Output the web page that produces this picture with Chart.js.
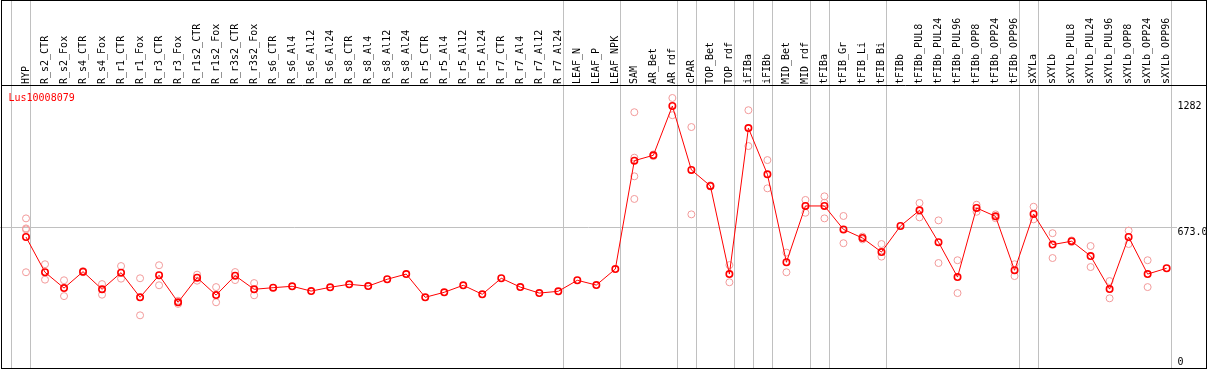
<!DOCTYPE html>
<html><head><meta charset="utf-8">
<script src="https://cdn.jsdelivr.net/npm/chart.js@4.4.1/dist/chart.umd.min.js"></script>
<style>html,body{margin:0;padding:0;background:#fff;overflow:hidden}</style>
</head><body><canvas id="c" width="1209" height="370"></canvas>
<script>
const categories = ['HYP','R_s2_CTR','R_s2_Fox','R_s4_CTR','R_s4_Fox','R_r1_CTR','R_r1_Fox','R_r3_CTR','R_r3_Fox','R_r1s2_CTR','R_r1s2_Fox','R_r3s2_CTR','R_r3s2_Fox','R_s6_CTR','R_s6_Al4','R_s6_Al12','R_s6_Al24','R_s8_CTR','R_s8_Al4','R_s8_Al12','R_s8_Al24','R_r5_CTR','R_r5_Al4','R_r5_Al12','R_r5_Al24','R_r7_CTR','R_r7_Al4','R_r7_Al12','R_r7_Al24','LEAF_N','LEAF_P','LEAF_NPK','SAM','AR_Bet','AR_rdf','cPAR','TOP_Bet','TOP_rdf','iFIBa','iFIBb','MID_Bet','MID_rdf','tFIBa','tFIB_Gr','tFIB_Li','tFIB_Bi','tFIBb','tFIBb_PUL8','tFIBb_PUL24','tFIBb_PUL96','tFIBb_OPP8','tFIBb_OPP24','tFIBb_OPP96','sXYLa','sXYLb','sXYLb_PUL8','sXYLb_PUL24','sXYLb_PUL96','sXYLb_OPP8','sXYLb_OPP24','sXYLb_OPP96'];
const means = [628,452,373,455,367,450,327,437,302,425,338,435,367,375,382,358,377,392,383,417,443,327,352,387,342,422,378,348,357,412,388,468,1009,1036,1282,963,883,443,1172,941,502,783,783,666,623,553,683,761,602,428,773,731,462,743,590,607,533,368,628,443,472];
const rep1 = [721,492,412,458,393,483,422,487,310,440,378,453,398,null,null,null,null,null,null,null,null,null,null,null,null,null,null,null,null,null,null,null,1251,1040,1322,1177,886,488,1261,1012,550,813,831,733,630,593,null,798,711,512,789,741,492,779,647,611,583,408,660,512,null];
const rep2 = [671,415,333,452,340,420,237,387,294,410,302,413,337,null,null,null,null,null,null,null,null,null,null,null,null,null,null,null,null,null,null,null,1024,1032,1236,741,880,402,1082,871,452,749,799,597,616,530,null,726,498,348,754,722,433,716,523,603,478,322,593,378,null];
const rep3 = [666,null,null,null,null,null,null,null,null,null,null,null,null,null,null,null,null,null,null,null,null,null,null,null,null,null,null,null,null,null,null,null,931,null,null,null,null,null,null,null,null,null,721,null,null,null,null,null,null,null,null,null,null,null,null,null,null,null,null,null,null];
const rep4 = [452,null,null,null,null,null,null,null,null,null,null,null,null,null,null,null,null,null,null,null,null,null,null,null,null,null,null,null,null,null,null,null,818,null,null,null,null,null,null,null,null,null,null,null,null,null,null,null,null,null,null,null,null,null,null,null,null,null,null,null,null];
const yTickValues = [0, 673, 1282];
const yTickLabels = ['0', '673.0', '1282'];
const geneName = 'Lus10008079';
const groupEnds = [-1, 0, 28, 31, 34, 35, 37, 38, 39, 41, 42, 45, 52, 53, 60];

const toPts = arr => arr.map((v, i) => v == null ? null : {x: i, y: v}).filter(p => p);
const FONT = {family: '"DejaVu Sans Mono", monospace', size: 10};

const framePlugin = {
  id: 'frame',
  beforeDatasetsDraw(chart) {
    const c = chart.ctx, xs = chart.scales.x;
    c.save();
    c.strokeStyle = '#c0c0c0'; c.lineWidth = 1;
    groupEnds.forEach(i => {
      const px = Math.round(xs.getPixelForValue(i + 0.23)) + 0.5;
      c.beginPath(); c.moveTo(px, 0); c.lineTo(px, 369); c.stroke();
    });
    c.restore();
  },
  afterDraw(chart) {
    const c = chart.ctx;
    c.save();
    c.strokeStyle = '#000'; c.lineWidth = 1;
    c.strokeRect(1.5, 0.5, 1205, 368);
    c.beginPath(); c.moveTo(1, 85.5); c.lineTo(1207, 85.5); c.stroke();
    c.fillStyle = '#ff0000';
    c.font = '10px "DejaVu Sans Mono"';
    c.textBaseline = 'alphabetic';
    c.fillText(geneName, 8.5, 101);
    c.restore();
  }
};

const pale = '#f29a9a';
const repDs = [rep1, rep2, rep3, rep4].map((r, k) => ({
  label: 'rep' + (k + 1), data: toPts(r), showLine: false,
  pointStyle: 'circle', pointRadius: 3.5, pointBorderWidth: 1,
  pointBorderColor: pale, pointBackgroundColor: 'rgba(0,0,0,0)'
}));

new Chart(document.getElementById('c'), {
  type: 'scatter',
  data: {
    datasets: [{
      label: 'mean', data: toPts(means), showLine: true,
      borderColor: '#ff0000', borderWidth: 1, tension: 0,
      pointStyle: 'circle', pointRadius: 3.2, pointBorderWidth: 1.6,
      pointBorderColor: '#ff0000', pointBackgroundColor: 'rgba(0,0,0,0)'
    }, ...repDs]
  },
  options: {
    responsive: false, animation: false, devicePixelRatio: 1,
    layout: {autoPadding: false, padding: {left: 0, right: 0, top: 0, bottom: 1}},
    plugins: {legend: {display: false}, tooltip: {enabled: false}, title: {display: false}},
    scales: {
      x: {
        type: 'linear', position: 'top', min: -1.3677, max: 60.545,
        afterBuildTicks: s => { s.ticks = categories.map((c, i) => ({value: i})); },
        afterFit: s => { s.height = 85; s.paddingLeft = 0; s.paddingRight = 0; },
        grid: {display: false, drawTicks: false},
        border: {display: false},
        ticks: {autoSkip: false, minRotation: 90, maxRotation: 90, padding: 1, labelOffset: 12, color: '#000', font: FONT,
          callback: (v, i) => categories[i]}
      },
      y: {
        type: 'linear', position: 'right', min: -30.95, max: 1386.85,
        afterBuildTicks: s => { s.ticks = yTickValues.map(v => ({value: v})); },
        afterFit: s => { s.width = 32; s.paddingTop = 0; s.paddingBottom = 0; },
        grid: {drawTicks: false, lineWidth: 1,
          color: c => (c.tick && c.tick.value === 673) ? '#c0c0c0' : 'rgba(0,0,0,0)'},
        border: {display: false},
        ticks: {padding: 0.5, color: '#000', font: Object.assign({}, FONT, {lineHeight: 0.9}),
          callback: (v, i) => i === 1 ? ['', yTickLabels[i]] : yTickLabels[i]}
      }
    }
  },
  plugins: [framePlugin]
});
</script></body></html>
